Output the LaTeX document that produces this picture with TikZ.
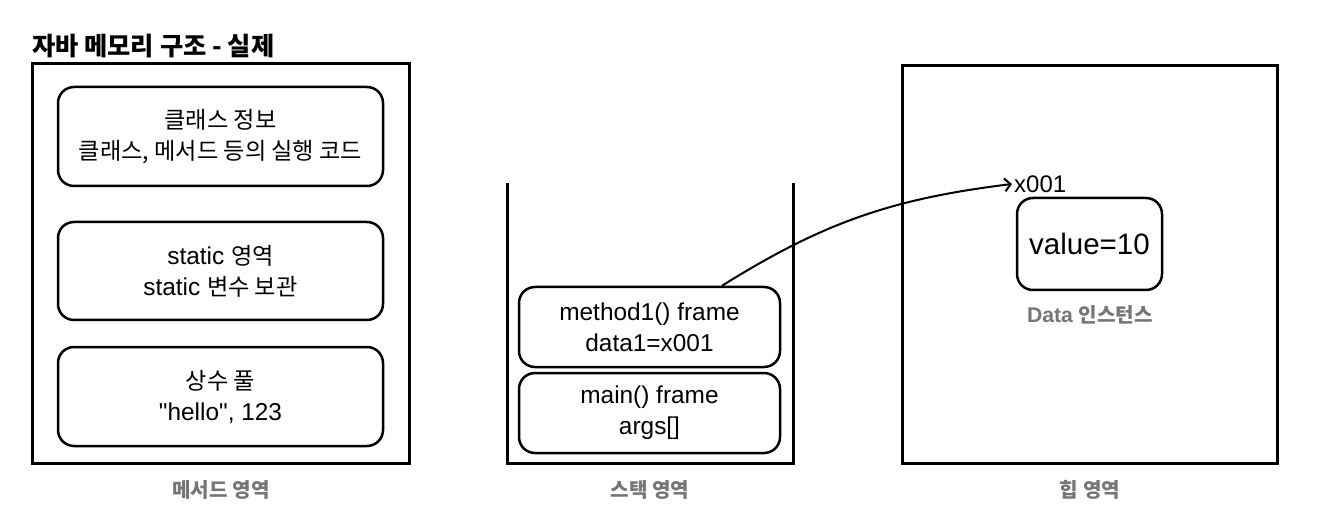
\documentclass[tikz,border=0pt]{standalone}
\usepackage{fontspec}
\setmainfont{Liberation Sans}
\newfontfamily\rawlat{Liberation Sans}
\newfontfamily\krfont[Scale=0.95]{Noto Sans CJK KR}
\newcommand\kor[1]{{\krfont #1}}
\usetikzlibrary{arrows.meta}
\definecolor{lbl}{HTML}{767676}
\tikzset{
  area/.style={draw, line width=3pt, inner sep=0pt},
  membox/.style={draw, line width=2.5pt, rounded corners=16pt, align=center,
    font=\fontsize{24.4}{31}\selectfont, inner sep=0pt},
  caption/.style={text=lbl, font=\bfseries\fontsize{21.2}{24}\selectfont},
  ref/.style={line width=2pt, -{Straight Barb[length=6pt,width=13pt,line width=2pt]}}
}
\begin{document}
\begin{tikzpicture}[x=1pt,y=1pt]
\useasboundingbox (0,0) rectangle (1328,520);
% title
\node[anchor=west, inner sep=0pt, font=\bfseries\fontsize{26.6}{30}\selectfont] (title) at (32,474) {\kor{자바 메모리 구조 - 실제}};
% method area
\node[area, minimum width=377pt, minimum height=399pt] (marea) at (220.5,256.5) {};
\node[membox, minimum width=325pt, minimum height=99pt] (cls) at (220.5,383.5) {\kor{클래스 정보}\\\kor{클래스, 메서드 등의 실행 코드}};
\node[membox, minimum width=325pt, minimum height=98pt] (stat) at (220.5,249) {static \kor{영역}\\static \kor{변수 보관}};
\node[membox, minimum width=325pt, minimum height=99pt] (pool) at (220.5,123.5) {\kor{상수 풀}\\{\rawlat "hello", 123}};
\node[caption] (mlbl) at (221,30) {\kor{메서드 영역}};
% stack area
\draw[line width=3pt] (507,337) -- (507,57) -- (793,57) -- (793,337);
\node[membox, minimum width=261pt, minimum height=80pt] (m1) at (649.5,193) {method1() frame\\data1=x001};
\node[membox, minimum width=261pt, minimum height=80pt] (mn) at (649.5,107) {main() frame\\args[]};
\node[caption] (slbl) at (650,30) {\kor{스택 영역}};
% heap area
\node[area, minimum width=375pt, minimum height=397pt] (heap) at (1089.5,255.5) {};
\node[membox, minimum width=145pt, minimum height=92pt, font=\fontsize{29.5}{34}\selectfont] (data) at (1089.5,276) {value=10};
\node[caption] (dlbl) at (1090,205) {Data \kor{인스턴스}};
\node[anchor=west, inner sep=2pt, font=\fontsize{24}{28}\selectfont] (x1) at (1012,336) {x001};
\node[caption] (hlbl) at (1090,30) {\kor{힙 영역}};
% reference
\draw[ref] ([xshift=72.5pt]m1.north) to[out=32,in=187] (x1.west);
\end{tikzpicture}
\end{document}
